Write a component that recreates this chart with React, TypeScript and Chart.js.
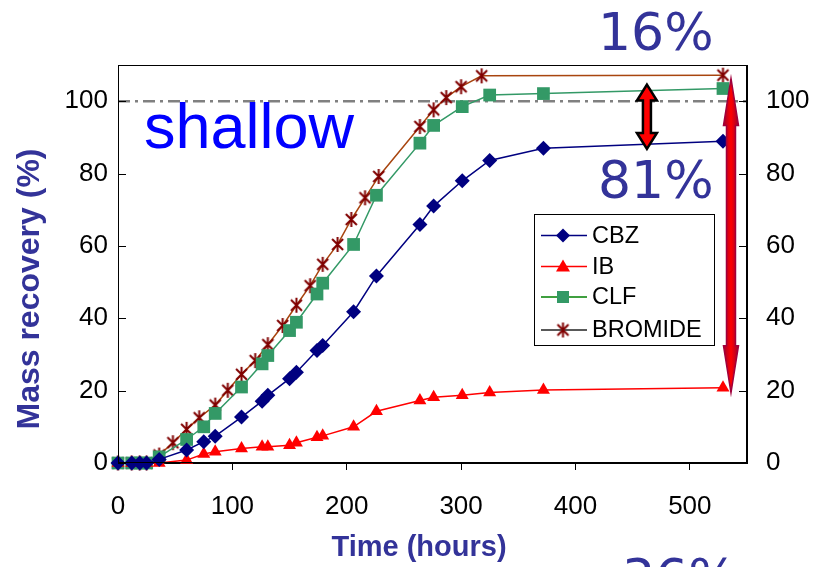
import React, { useEffect, useRef } from "react";
import { Chart, registerables } from "chart.js";

Chart.register(...registerables);

// ---------- data ----------
const seriesNames = ["CBZ", "IB", "CLF", "BROMIDE"];

const drugTimes = [0, 12, 19, 25, 36, 60, 75, 85, 108, 126, 131, 150, 156, 174, 179, 206, 226, 264, 276, 301, 325, 372, 529];
const cbzValues = [0, 0, 0, 0, 1.0, 3.6, 5.9, 7.4, 12.7, 17.1, 18.7, 23.3, 25.1, 31.1, 32.5, 41.8, 51.7, 65.9, 71.0, 78.0, 83.6, 87.0, 88.9];
const ibValues = [0, 0, 0, 0, 0, 0.8, 2.5, 3.1, 4.0, 4.5, 4.5, 4.9, 5.6, 7.1, 7.5, 10.0, 14.3, 17.3, 18.2, 18.7, 19.5, 20.2, 20.8];
const clfValues = [0, 0, 0, 0, 1.7, 6.5, 10.0, 13.7, 21.0, 27.4, 29.7, 36.6, 38.9, 46.7, 49.7, 60.4, 74.0, 88.4, 93.3, 98.5, 101.7, 102.1, 103.5];

const bromideTimes = [0, 12, 19, 25, 36, 48, 60, 71, 85, 96, 108, 120, 131, 144, 156, 168, 179, 192, 204, 216, 228, 264, 276, 287, 300, 318, 529];
const bromideValues = [0, 0, 0, 0, 2.2, 5.6, 9.3, 12.5, 16.0, 20.1, 24.5, 28.3, 32.7, 38.0, 43.6, 49.0, 54.9, 60.4, 67.3, 73.3, 79.2, 93.0, 97.6, 101.0, 104.0, 107.0, 107.2];

const referenceLevel = 100;
const xTickValues = [0, 100, 200, 300, 400, 500];
const yTickValues = [0, 20, 40, 60, 80, 100];

// annotation arrows: [x (hours), top value, bottom value]
const smallArrow = [462.5, 104.6, 86.8];
const bigArrow = [536, 106.3, 19.4];

const annotationTexts = ["shallow", "16%", "81%", "36%"];
const axisTitles = ["Mass recovery (%)", "Time (hours)"];

// ---------- styling ----------
const SANS = "'Liberation Sans', Arial, Helvetica, sans-serif";
const TITLE_BLUE = "#333399";

function makeStar(): HTMLCanvasElement {
  const c = document.createElement("canvas");
  c.width = 17;
  c.height = 17;
  const g = c.getContext("2d")!;
  g.strokeStyle = "#800000";
  g.lineWidth = 2;
  g.lineCap = "butt";
  g.beginPath();
  g.moveTo(3, 3);
  g.lineTo(14, 14);
  g.moveTo(14, 3);
  g.lineTo(3, 14);
  g.moveTo(8.5, 1);
  g.lineTo(8.5, 16);
  g.stroke();
  return c;
}

function toPoints(xs: number[], ys: number[]) {
  return xs.map((x, i) => ({ x, y: ys[i] }));
}

function doubleArrowPath(ctx: CanvasRenderingContext2D, x: number, yTop: number, yBot: number, shaftW: number, headW: number, headL: number) {
  ctx.beginPath();
  ctx.moveTo(x, yTop);
  ctx.lineTo(x + headW / 2, yTop + headL);
  ctx.lineTo(x + shaftW / 2, yTop + headL);
  ctx.lineTo(x + shaftW / 2, yBot - headL);
  ctx.lineTo(x + headW / 2, yBot - headL);
  ctx.lineTo(x, yBot);
  ctx.lineTo(x - headW / 2, yBot - headL);
  ctx.lineTo(x - shaftW / 2, yBot - headL);
  ctx.lineTo(x - shaftW / 2, yTop + headL);
  ctx.lineTo(x - headW / 2, yTop + headL);
  ctx.closePath();
}

const legendStyles = [
  { line: "#000080" },
  { line: "#FF0000" },
  { line: "#008000" },
  { line: "#222222" },
];

const overlayPlugin = {
  id: "overlay",
  afterDatasetsDraw(chart: any) {
    const { ctx, chartArea, scales } = chart;
    const xs = scales.x;
    const ys = scales.y;
    ctx.save();

    // frame
    ctx.strokeStyle = "#000";
    ctx.lineWidth = 1;
    ctx.strokeRect(Math.round(chartArea.left) + 0.5, Math.round(chartArea.top) + 0.5, Math.round(chartArea.width) - 1, Math.round(chartArea.height) - 1);

    // inward y tick marks on both sides
    ctx.beginPath();
    for (const v of yTickValues) {
      const py = Math.round(ys.getPixelForValue(v)) + 0.5;
      ctx.moveTo(chartArea.left, py);
      ctx.lineTo(chartArea.left + 8, py);
      ctx.moveTo(chartArea.right, py);
      ctx.lineTo(chartArea.right - 8, py);
    }
    ctx.stroke();

    // small black/red double arrow
    {
      const x = xs.getPixelForValue(smallArrow[0]);
      const t = ys.getPixelForValue(smallArrow[1]);
      const b = ys.getPixelForValue(smallArrow[2]);
      doubleArrowPath(ctx, x, t, b, 8, 20, 16);
      ctx.fillStyle = "#FF0000";
      ctx.fill();
      ctx.lineWidth = 2.5;
      ctx.strokeStyle = "#000";
      ctx.lineJoin = "miter";
      ctx.stroke();
    }
    // big red double arrow
    {
      const x = xs.getPixelForValue(bigArrow[0]);
      const t = ys.getPixelForValue(bigArrow[1]);
      const b = ys.getPixelForValue(bigArrow[2]);
      doubleArrowPath(ctx, x, t, b, 9, 15, 47);
      const grad = ctx.createLinearGradient(x - 8, 0, x + 8, 0);
      grad.addColorStop(0, "#990033");
      grad.addColorStop(0.5, "#FF0000");
      grad.addColorStop(1, "#990033");
      ctx.fillStyle = grad;
      ctx.fill();
      ctx.lineWidth = 1.5;
      ctx.strokeStyle = "#A0003C";
      ctx.stroke();
    }

    // legend box
    const lx = 534, ly = 214, lw = 180, lh = 131;
    ctx.fillStyle = "#fff";
    ctx.fillRect(lx, ly, lw, lh);
    ctx.strokeStyle = "#000";
    ctx.lineWidth = 1;
    ctx.strokeRect(lx + 0.5, ly + 0.5, lw, lh);
    const rowY = [235.5, 266.5, 297, 330];
    chart.data.datasets.slice(0, 4).forEach((ds: any, i: number) => {
      const y = rowY[i];
      ctx.strokeStyle = legendStyles[i].line;
      ctx.lineWidth = 1.5;
      ctx.beginPath();
      ctx.moveTo(541, y);
      ctx.lineTo(587, y);
      ctx.stroke();
      const mx = 563;
      if (i === 0) {
        ctx.fillStyle = "#000080";
        ctx.beginPath();
        ctx.moveTo(mx, y - 7); ctx.lineTo(mx + 7, y); ctx.lineTo(mx, y + 7); ctx.lineTo(mx - 7, y); ctx.closePath();
        ctx.fill();
      } else if (i === 1) {
        ctx.fillStyle = "#FF0000";
        ctx.beginPath();
        ctx.moveTo(mx, y - 7); ctx.lineTo(mx + 7, y + 5); ctx.lineTo(mx - 7, y + 5); ctx.closePath();
        ctx.fill();
      } else if (i === 2) {
        ctx.fillStyle = "#339966";
        ctx.fillRect(mx - 6, y - 6, 12, 12);
      } else {
        ctx.drawImage(starImage, mx - 8.5, y - 8.5);
      }
      ctx.fillStyle = "#000";
      ctx.font = `23.5px ${SANS}`;
      ctx.textAlign = "left";
      ctx.textBaseline = "middle";
      ctx.fillText(ds.label, 592, y + 1);
    });

    // annotation texts
    ctx.textBaseline = "alphabetic";
    ctx.textAlign = "left";
    ctx.fillStyle = "#0000FF";
    ctx.font = `63px ${SANS}`;
    ctx.fillText(annotationTexts[0], 144, 148);

    ctx.fillStyle = TITLE_BLUE;
    ctx.font = `52px 'DejaVu Sans', Verdana, sans-serif`;
    ctx.fillText(annotationTexts[1], 598, 50);
    ctx.fillText(annotationTexts[2], 598, 198);
    ctx.fillText(annotationTexts[3], 622, 596);

    // axis titles
    ctx.font = `bold 32px ${SANS}`;
    ctx.textAlign = "center";
    ctx.save();
    ctx.translate(39, 289);
    ctx.rotate(-Math.PI / 2);
    ctx.fillText(axisTitles[0], 0, 0);
    ctx.restore();

    ctx.font = `bold 29px ${SANS}`;
    ctx.fillText(axisTitles[1], 419, 556);

    ctx.restore();
  },
};

const starImage = makeStar();

export default function App() {
  const ref = useRef<HTMLCanvasElement>(null);

  useEffect(() => {
    const canvas = ref.current!;
    const tickFont = { size: 26, family: SANS };
    const chart = new Chart(canvas, {
      type: "line",
      data: {
        datasets: [
          {
            label: seriesNames[0],
            data: toPoints(drugTimes, cbzValues),
            borderColor: "#000080",
            backgroundColor: "#000080",
            pointStyle: "rectRot",
            pointRadius: 7.5,
            pointBorderWidth: 0,
            borderWidth: 1.5,
            clip: false,
          },
          {
            label: seriesNames[1],
            data: toPoints(drugTimes, ibValues),
            borderColor: "#FF0000",
            backgroundColor: "#FF0000",
            pointStyle: "triangle",
            pointRadius: 7.5,
            pointBorderWidth: 0,
            borderWidth: 1.5,
            clip: false,
          },
          {
            label: seriesNames[2],
            data: toPoints(drugTimes, clfValues),
            borderColor: "#339966",
            backgroundColor: "#339966",
            pointStyle: "rect",
            pointRadius: 9,
            pointBorderWidth: 0,
            borderWidth: 1.5,
            clip: false,
          },
          {
            label: seriesNames[3],
            data: toPoints(bromideTimes, bromideValues),
            borderColor: "#A8450F",
            backgroundColor: "#800000",
            pointStyle: starImage as any,
            pointRadius: 8,
            borderWidth: 1.5,
            clip: false,
          },
          {
            label: "reference",
            data: [
              { x: 0, y: referenceLevel },
              { x: 550, y: referenceLevel },
            ],
            borderColor: "#808080",
            borderWidth: 2.5,
            borderDash: [12, 5, 3, 5],
            pointRadius: 0,
          },
        ],
      },
      options: {
        responsive: false,
        animation: false,
        devicePixelRatio: 1,
        layout: { padding: { top: 65, left: 0, right: 0, bottom: 0 } },
        elements: { line: { tension: 0 } },
        plugins: { legend: { display: false }, tooltip: { enabled: false } },
        scales: {
          x: {
            type: "linear",
            position: "bottom",
            min: 0,
            max: 550,
            afterBuildTicks: (s: any) => {
              s.ticks = xTickValues.map((v) => ({ value: v }));
            },
            ticks: { font: tickFont, color: "#000", padding: 21, maxRotation: 0 },
            grid: { drawOnChartArea: false, drawTicks: true, tickLength: 7, color: "#000", lineWidth: 1 },
            border: { display: true, color: "#000" },
            afterFit: (s: any) => {
              s.height = 104;
            },
          },
          y: {
            type: "linear",
            position: "left",
            min: 0,
            max: 110,
            afterBuildTicks: (s: any) => {
              s.ticks = yTickValues.map((v) => ({ value: v }));
            },
            ticks: { font: tickFont, color: "#000", padding: 10 },
            grid: { display: false, drawTicks: false },
            border: { display: true, color: "#000" },
            afterFit: (s: any) => {
              s.width = 118;
            },
          },
          y2: {
            type: "linear",
            position: "right",
            min: 0,
            max: 110,
            afterBuildTicks: (s: any) => {
              s.ticks = yTickValues.map((v) => ({ value: v }));
            },
            ticks: { font: tickFont, color: "#000", padding: 19 },
            grid: { display: false, drawTicks: false },
            border: { display: true, color: "#000" },
            afterFit: (s: any) => {
              s.width = 74;
            },
          },
        },
      },
      plugins: [overlayPlugin],
    } as any);
    return () => chart.destroy();
  }, []);

  return (
    <div style={{ position: "fixed", left: 0, top: 0, width: 821, height: 567, background: "#fff" }}>
      <canvas ref={ref} width={821} height={567} style={{ display: "block", width: 821, height: 567 }} />
    </div>
  );
}
